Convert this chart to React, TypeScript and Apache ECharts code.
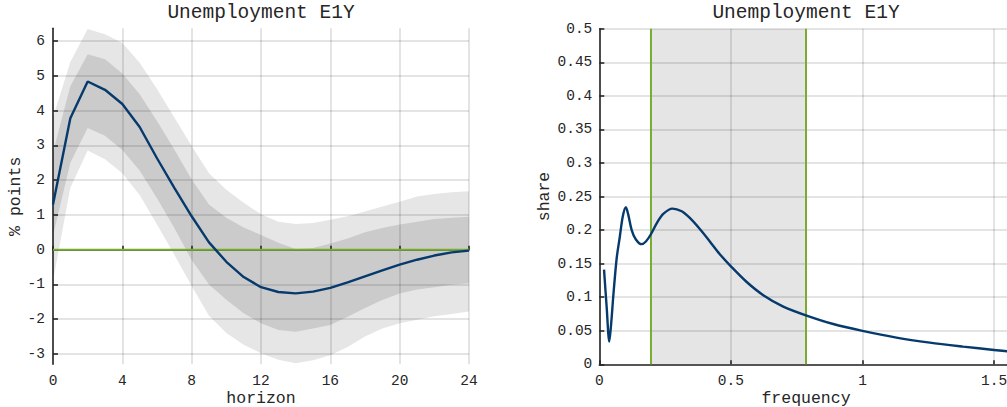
import React, { useEffect, useRef } from "react";
import * as echarts from "echarts";

// ---- Left panel: impulse response (horizon 0..24) ----
const horizon = [0, 1, 2, 3, 4, 5, 6, 7, 8, 9, 10, 11, 12, 13, 14, 15, 16, 17, 18, 19, 20, 21, 22, 23, 24];
const median = [1.3, 3.78, 4.84, 4.6, 4.19, 3.53, 2.63, 1.78, 0.96, 0.21, -0.35, -0.79, -1.08, -1.22, -1.26, -1.21, -1.1, -0.94, -0.77, -0.6, -0.43, -0.29, -0.17, -0.08, -0.03];
const outerHi = [3.8, 5.4, 6.35, 6.2, 5.95, 5.38, 4.62, 3.8, 2.98, 2.2, 1.72, 1.35, 1.02, 0.8, 0.74, 0.77, 0.86, 0.96, 1.1, 1.24, 1.38, 1.53, 1.6, 1.65, 1.68];
const innerHi = [2.8, 4.7, 5.62, 5.48, 5.07, 4.47, 3.7, 2.88, 2.02, 1.3, 0.92, 0.64, 0.42, 0.2, 0.02, 0.05, 0.18, 0.32, 0.5, 0.62, 0.72, 0.8, 0.88, 0.92, 0.95];
const innerLo = [0.4, 2.5, 3.5, 3.28, 2.87, 2.28, 1.48, 0.62, -0.3, -1.0, -1.44, -1.83, -2.12, -2.31, -2.36, -2.27, -2.17, -1.93, -1.68, -1.45, -1.26, -1.15, -1.08, -1.01, -0.97];
const outerLo = [-0.9, 1.78, 2.85, 2.6, 2.2, 1.57, 0.72, -0.15, -1.05, -1.9, -2.4, -2.74, -2.98, -3.17, -3.27, -3.18, -3.04, -2.8, -2.5, -2.27, -2.12, -2.02, -1.92, -1.85, -1.78];
const leftYTicks = [-3, -2, -1, 0, 1, 2, 3, 4, 5, 6];

// ---- Right panel: variance share by frequency ----
const freq = [0.018, 0.028, 0.038, 0.046, 0.053, 0.066, 0.078, 0.089, 0.101, 0.11, 0.123, 0.139, 0.161, 0.177, 0.195, 0.218, 0.243, 0.278, 0.313, 0.344, 0.382, 0.42, 0.458, 0.5, 0.559, 0.623, 0.699, 0.785, 0.889, 1.0, 1.129, 1.256, 1.382, 1.5, 1.571];
const share = [0.141, 0.085, 0.034, 0.065, 0.101, 0.158, 0.19, 0.22, 0.234, 0.223, 0.2, 0.186, 0.179, 0.183, 0.193, 0.21, 0.224, 0.232, 0.228, 0.218, 0.2015, 0.183, 0.164, 0.146, 0.123, 0.103, 0.086, 0.073, 0.06, 0.0498, 0.0398, 0.0323, 0.0264, 0.0214, 0.0185];
const bandLo = (2 * Math.PI) / 32;
const bandHi = (2 * Math.PI) / 8;

const FONT = "'Liberation Mono', 'Courier New', monospace";
const TXT = "#262626";
const AX = { color: "#262626", width: 1.6 };
const GRIDLINE = { show: true, lineStyle: { color: "rgba(0,0,0,0.14)", width: 1.5 } };
const BLUE = "#063a6c";
const GREEN = "#77ac30";

export default function App() {
  const ref = useRef<HTMLDivElement>(null);
  useEffect(() => {
    document.body.style.margin = "0";
    const chart = echarts.init(ref.current!, null, { renderer: "svg" });
    const pairs = (ys: number[]) => horizon.map((h, i) => [h, ys[i]]);
    const bandSeries = (name: string, lo: number[], hi: number[], color: string) => ({
      name,
      type: "custom",
      xAxisIndex: 0,
      yAxisIndex: 0,
      silent: true,
      z: 1,
      clip: true,
      data: horizon.map((h, i) => [h, lo[i], hi[i]]),
      encode: { x: 0, y: [1, 2] },
      renderItem: (params: any, api: any) => {
        if (params.dataIndex !== 0) return null;
        const top = horizon.map((h, i) => api.coord([h, hi[i]]));
        const bot = horizon.map((h, i) => api.coord([h, lo[i]])).reverse();
        return {
          type: "polygon",
          shape: { points: top.concat(bot) },
          style: { fill: color, stroke: null },
        };
      },
    });
    const tickLabel = { fontFamily: FONT, fontSize: 14.5, color: TXT };
    const nameStyle = { fontFamily: FONT, fontSize: 16.5, color: TXT };
    const option: any = {
      animation: false,
      backgroundColor: "#ffffff",
      graphic: [
        { type: "text", x: 261, y: 12.5, style: { text: "Unemployment E1Y", fontFamily: FONT, fontSize: 19.5, fill: TXT, align: "center", verticalAlign: "middle" } },
        { type: "text", x: 806, y: 12.5, style: { text: "Unemployment E1Y", fontFamily: FONT, fontSize: 19.5, fill: TXT, align: "center", verticalAlign: "middle" } },
      ],
      grid: [
        { left: 53, top: 28.3, width: 416, height: 336, outerBoundsMode: "none", containLabel: false },
        { left: 599.3, top: 28.7, width: 413.4, height: 335.6, outerBoundsMode: "none", containLabel: false },
      ],
      xAxis: [
        {
          gridIndex: 0, type: "value", min: 0, max: 24, interval: 4, z: 3,
          name: "horizon", nameLocation: "middle", nameGap: 26, nameMoveOverlap: false, nameTextStyle: nameStyle,
          axisLine: { show: true, lineStyle: AX },
          axisTick: { show: true, inside: true, length: 4, lineStyle: AX },
          axisLabel: { ...tickLabel, margin: 9 },
          splitLine: GRIDLINE,
        },
        {
          gridIndex: 1, type: "value", min: 0, max: Math.PI / 2, interval: 0.5, z: 3,
          name: "frequency", nameLocation: "middle", nameGap: 26, nameMoveOverlap: false, nameTextStyle: nameStyle,
          axisLine: { show: true, lineStyle: AX },
          axisTick: { show: true, inside: true, length: 4, lineStyle: AX },
          axisLabel: {
            ...tickLabel, margin: 9, showMaxLabel: false,
            formatter: (v: number) => (Math.abs(v / 0.5 - Math.round(v / 0.5)) < 1e-9 ? String(v) : ""),
          },
          splitLine: GRIDLINE,
        },
      ],
      yAxis: [
        {
          gridIndex: 0, type: "value", min: -3.3, max: 6.37, z: 3,
          name: "% points", nameLocation: "middle", nameGap: 29, nameMoveOverlap: false, nameTextStyle: nameStyle,
          axisLine: { show: true, lineStyle: AX },
          axisTick: { show: true, inside: true, length: 5, lineStyle: AX, customValues: leftYTicks },
          axisLabel: { ...tickLabel, margin: 8, customValues: leftYTicks },
          splitLine: GRIDLINE,
        },
        {
          gridIndex: 1, type: "value", min: 0, max: 0.5, interval: 0.05, z: 3,
          name: "share", nameLocation: "middle", nameGap: 46, nameMoveOverlap: false, nameTextStyle: nameStyle,
          axisLine: { show: true, lineStyle: AX },
          axisTick: { show: true, inside: true, length: 5, lineStyle: AX },
          axisLabel: { ...tickLabel, margin: 7 },
          splitLine: GRIDLINE,
        },
      ],
      series: [
        bandSeries("outerBand", outerLo, outerHi, "#e6e6e6"),
        bandSeries("innerBand", innerLo, innerHi, "#cbcbcb"),
        {
          name: "zero", type: "line", xAxisIndex: 0, yAxisIndex: 0, symbol: "none", z: 4, silent: true,
          data: [[0, 0], [24, 0]], lineStyle: { color: GREEN, width: 2 },
        },
        {
          name: "median", type: "line", xAxisIndex: 0, yAxisIndex: 0, symbol: "none", z: 5,
          data: pairs(median), lineStyle: { color: BLUE, width: 2.4 },
        },
        {
          name: "band", type: "line", xAxisIndex: 1, yAxisIndex: 1, symbol: "none", z: 1, silent: true,
          data: [[bandLo, 0.5], [bandHi, 0.5]], lineStyle: { opacity: 0, width: 0 },
          areaStyle: { color: "#e5e5e5", opacity: 1, origin: "start" },
        },
        {
          name: "lo", type: "line", xAxisIndex: 1, yAxisIndex: 1, symbol: "none", z: 4, silent: true,
          data: [[bandLo, 0], [bandLo, 0.5]], lineStyle: { color: GREEN, width: 2 },
        },
        {
          name: "hi", type: "line", xAxisIndex: 1, yAxisIndex: 1, symbol: "none", z: 4, silent: true,
          data: [[bandHi, 0], [bandHi, 0.5]], lineStyle: { color: GREEN, width: 2 },
        },
        {
          name: "share", type: "line", xAxisIndex: 1, yAxisIndex: 1, symbol: "none", z: 5, smooth: 0.3,
          data: freq.map((f, i) => [f, share[i]]), lineStyle: { color: BLUE, width: 2.4 },
        },
      ],
    };
    chart.setOption(option);
    return () => chart.dispose();
  }, []);
  return <div ref={ref} style={{ width: 1007, height: 407 }} />;
}
